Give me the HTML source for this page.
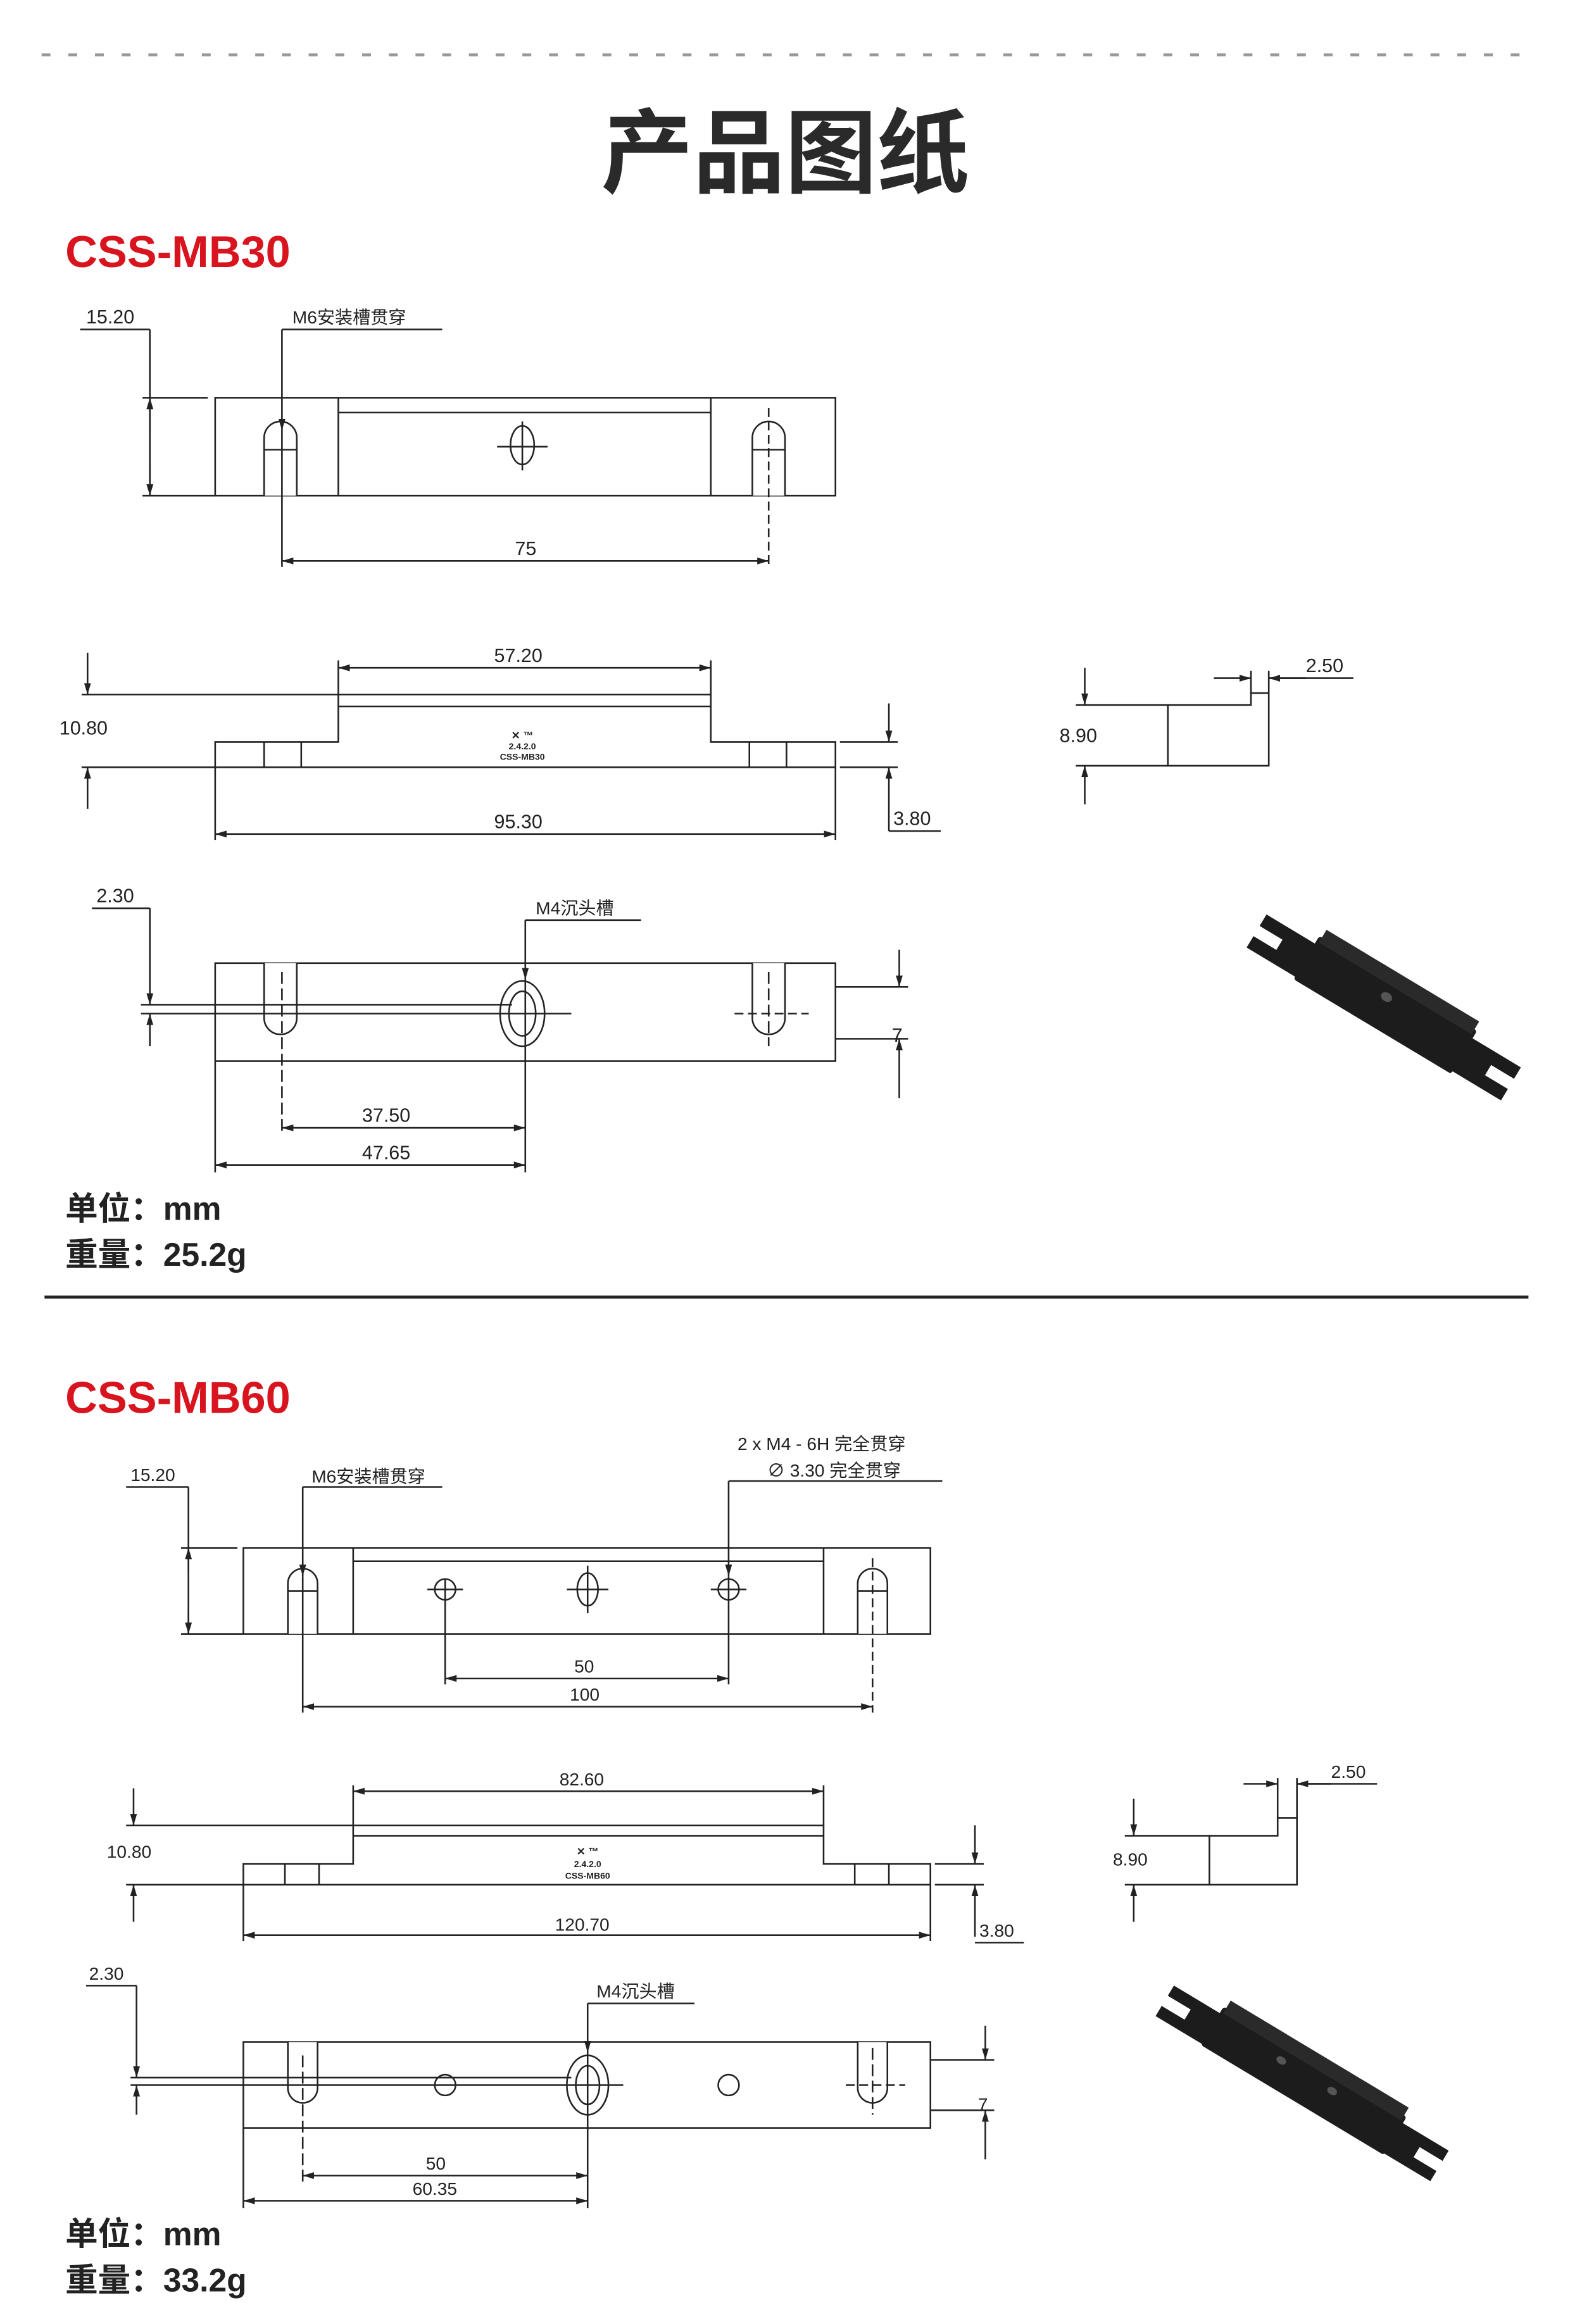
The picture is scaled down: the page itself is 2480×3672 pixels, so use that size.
<!DOCTYPE html>
<html><head><meta charset="utf-8"><style>
html,body{margin:0;padding:0;background:#fff;}
svg{display:block;}
text{font-family:"Liberation Sans","Noto Sans CJK SC",sans-serif;fill:#222;}
.d{font-size:13px;}
.s{font-size:12px;}
</style></head><body>
<svg width="2480" height="3672" viewBox="0 0 1058 1566" preserveAspectRatio="none" xmlns="http://www.w3.org/2000/svg">
<defs>
<marker id="a" viewBox="0 0 10 10" refX="10" refY="5" markerWidth="7" markerHeight="7" orient="auto-start-reverse"><path d="M0,2 L10,5 L0,8 z" fill="#222"/></marker>
</defs>
<rect width="1058" height="1566" fill="#fff"/>
<line x1="28" y1="37" x2="1030" y2="37" stroke="#999" stroke-width="2" stroke-dasharray="6,12"/>
<text x="529" y="125" text-anchor="middle" style="font-size:62px;font-weight:bold;fill:#2a2a2a">产品图纸</text>

<!-- ================= MB30 ================= -->
<text x="44" y="180" style="font-size:30px;font-weight:bold;fill:#d8141e">CSS-MB30</text>
<g fill="none" stroke="#222" stroke-width="1.1">
<rect x="145" y="268" width="418" height="66"/>
<line x1="228" y1="268" x2="228" y2="334"/><line x1="479" y1="268" x2="479" y2="334"/>
<line x1="228" y1="278" x2="479" y2="278"/>
<path d="M178,334 V295 A11,11 0 0 1 200,295 V334" fill="#fff"/>
<path d="M507,334 V295 A11,11 0 0 1 529,295 V334" fill="#fff"/>
<ellipse cx="352" cy="300" rx="8" ry="13"/>
<line x1="335" y1="301" x2="369" y2="301"/><line x1="352" y1="284" x2="352" y2="317"/>
<line x1="178" y1="303" x2="200" y2="303"/><line x1="507" y1="303" x2="529" y2="303"/>
<line x1="518" y1="275" x2="518" y2="382" stroke-dasharray="6,3"/>
<line x1="190" y1="222" x2="190" y2="290" marker-end="url(#a)"/>
<line x1="190" y1="290" x2="190" y2="382"/>
<line x1="190" y1="222" x2="298" y2="222"/>
<line x1="54" y1="222" x2="101" y2="222"/>
<line x1="101" y1="222" x2="101" y2="334"/>
<line x1="101" y1="290" x2="101" y2="268" marker-end="url(#a)"/>
<line x1="101" y1="310" x2="101" y2="334" marker-end="url(#a)"/>
<line x1="96" y1="268" x2="140" y2="268"/><line x1="96" y1="334" x2="145" y2="334"/>
<line x1="190" y1="378" x2="518" y2="378" marker-start="url(#a)" marker-end="url(#a)"/>
<path d="M145,517 H563 V500 H479 V468 H228 V500 H145 Z"/>
<line x1="228" y1="476" x2="479" y2="476"/>
<line x1="178" y1="500" x2="178" y2="517"/><line x1="203" y1="500" x2="203" y2="517"/>
<line x1="505" y1="500" x2="505" y2="517"/><line x1="530" y1="500" x2="530" y2="517"/>
<line x1="228" y1="445" x2="228" y2="468"/><line x1="479" y1="445" x2="479" y2="468"/>
<line x1="228" y1="450" x2="479" y2="450" marker-start="url(#a)" marker-end="url(#a)"/>
<line x1="55" y1="468" x2="228" y2="468"/><line x1="55" y1="517" x2="145" y2="517"/>
<line x1="59" y1="440" x2="59" y2="468" marker-end="url(#a)"/>
<line x1="59" y1="545" x2="59" y2="517" marker-end="url(#a)"/>
<line x1="145" y1="517" x2="145" y2="566"/><line x1="563" y1="517" x2="563" y2="566"/>
<line x1="145" y1="562" x2="563" y2="562" marker-start="url(#a)" marker-end="url(#a)"/>
<line x1="566" y1="500" x2="605" y2="500"/><line x1="566" y1="517" x2="605" y2="517"/>
<line x1="599" y1="474" x2="599" y2="500" marker-end="url(#a)"/>
<line x1="599" y1="560" x2="599" y2="517" marker-end="url(#a)"/>
<line x1="599" y1="560" x2="634" y2="560"/>
<path d="M787,475 H843 V467 H855 V516 H787 Z"/>
<line x1="843" y1="467" x2="843" y2="452"/><line x1="855" y1="467" x2="855" y2="452"/>
<line x1="818" y1="457" x2="843" y2="457" marker-end="url(#a)"/>
<line x1="880" y1="457" x2="855" y2="457" marker-end="url(#a)"/>
<line x1="855" y1="457" x2="912" y2="457"/>
<line x1="725" y1="475" x2="787" y2="475"/><line x1="725" y1="516" x2="787" y2="516"/>
<line x1="731" y1="450" x2="731" y2="475" marker-end="url(#a)"/>
<line x1="731" y1="542" x2="731" y2="516" marker-end="url(#a)"/>
<rect x="145" y="649" width="418" height="66"/>
<path d="M178,649 V686 A11,11 0 0 0 200,686 V649" fill="#fff"/>
<path d="M507,649 V686 A11,11 0 0 0 529,686 V649" fill="#fff"/>
<ellipse cx="352" cy="683" rx="15" ry="22"/>
<ellipse cx="352" cy="683" rx="9" ry="15"/>
<line x1="95" y1="683" x2="385" y2="683"/>
<line x1="95" y1="677" x2="345" y2="677"/>
<line x1="495" y1="683" x2="545" y2="683" stroke-dasharray="6,3"/>
<line x1="190" y1="655" x2="190" y2="764" stroke-dasharray="8,3"/>
<line x1="518" y1="655" x2="518" y2="705" stroke-dasharray="8,3"/>
<line x1="354" y1="620" x2="354" y2="660" marker-end="url(#a)"/>
<line x1="354" y1="660" x2="354" y2="790"/>
<line x1="354" y1="620" x2="432" y2="620"/>
<line x1="62" y1="612" x2="101" y2="612"/>
<line x1="101" y1="612" x2="101" y2="677" marker-end="url(#a)"/>
<line x1="101" y1="705" x2="101" y2="683" marker-end="url(#a)"/>
<line x1="563" y1="665" x2="612" y2="665"/><line x1="563" y1="700" x2="612" y2="700"/>
<line x1="606" y1="640" x2="606" y2="665" marker-end="url(#a)"/>
<line x1="606" y1="740" x2="606" y2="700" marker-end="url(#a)"/>
<line x1="145" y1="715" x2="145" y2="790"/>
<line x1="190" y1="760" x2="354" y2="760" marker-start="url(#a)" marker-end="url(#a)"/>
<line x1="145" y1="785" x2="354" y2="785" marker-start="url(#a)" marker-end="url(#a)"/>
</g>
<text x="58" y="218" class="d">15.20</text>
<text x="197" y="218" class="s">M6安装槽贯穿</text>
<text x="347" y="374" class="d">75</text>
<text x="333" y="446" class="d">57.20</text>
<text x="40" y="495" class="d">10.80</text>
<text x="333" y="558" class="d">95.30</text>
<text x="602" y="556" class="d">3.80</text>
<text x="352" y="498" text-anchor="middle" style="font-size:7px;font-weight:bold">✕ ™</text>
<text x="352" y="505" text-anchor="middle" style="font-size:6px;font-weight:bold">2.4.2.0</text>
<text x="352" y="512" text-anchor="middle" style="font-size:6px;font-weight:bold">CSS-MB30</text>
<text x="880" y="453" class="d">2.50</text>
<text x="714" y="500" class="d">8.90</text>
<text x="65" y="608" class="d">2.30</text>
<text x="361" y="616" class="s">M4沉头槽</text>
<text x="601" y="702" class="d">7</text>
<text x="244" y="756" class="d">37.50</text>
<text x="244" y="781" class="d">47.65</text>
<text x="44" y="822" style="font-size:22px;font-weight:bold">单位：mm</text>
<text x="44" y="853" style="font-size:22px;font-weight:bold">重量：25.2g</text>
<!-- iso 1 -->
<g transform="translate(933,678) rotate(31)" fill="#1c1c1c">
<rect x="-62" y="-18" width="124" height="34" rx="2"/>
<rect x="-60" y="-24" width="120" height="10" fill="#2a2a2a"/>
<path d="M-100,-12 H-60 V14 H-100 V5 H-82 V-3 H-100 Z"/>
<path d="M60,-12 H100 V-3 H82 V5 H100 V14 H60 Z"/>
<ellipse cx="-2" cy="-6" rx="4" ry="3" fill="#555"/>
</g>
<line x1="30" y1="874" x2="1030" y2="874" stroke="#222" stroke-width="2"/>

<!-- ================= MB60 ================= -->
<text x="44" y="952" style="font-size:30px;font-weight:bold;fill:#d8141e">CSS-MB60</text>
<g fill="none" stroke="#222" stroke-width="1.1">
<rect x="164" y="1043" width="463" height="58"/>
<line x1="238" y1="1043" x2="238" y2="1101"/><line x1="555" y1="1043" x2="555" y2="1101"/>
<line x1="238" y1="1052" x2="555" y2="1052"/>
<path d="M194,1101 V1067 A10,10 0 0 1 214,1067 V1101" fill="#fff"/>
<path d="M578,1101 V1067 A10,10 0 0 1 598,1067 V1101" fill="#fff"/>
<circle cx="300" cy="1071" r="7"/><circle cx="491" cy="1071" r="7"/>
<ellipse cx="396" cy="1071" rx="7" ry="11"/>
<line x1="288" y1="1071" x2="312" y2="1071"/><line x1="479" y1="1071" x2="503" y2="1071"/><line x1="382" y1="1071" x2="410" y2="1071"/>
<line x1="396" y1="1055" x2="396" y2="1087"/>
<line x1="194" y1="1072" x2="214" y2="1072"/><line x1="578" y1="1072" x2="598" y2="1072"/>
<line x1="300" y1="1064" x2="300" y2="1135"/>
<line x1="588" y1="1050" x2="588" y2="1154" stroke-dasharray="6,3"/>
<line x1="204" y1="1002" x2="204" y2="1062" marker-end="url(#a)"/>
<line x1="204" y1="1062" x2="204" y2="1154"/>
<line x1="204" y1="1002" x2="298" y2="1002"/>
<line x1="491" y1="998" x2="491" y2="1062" marker-end="url(#a)"/>
<line x1="491" y1="1062" x2="491" y2="1135"/>
<line x1="491" y1="998" x2="635" y2="998"/>
<line x1="85" y1="1002" x2="127" y2="1002"/>
<line x1="127" y1="1002" x2="127" y2="1101"/>
<line x1="127" y1="1060" x2="127" y2="1043" marker-end="url(#a)"/>
<line x1="127" y1="1085" x2="127" y2="1101" marker-end="url(#a)"/>
<line x1="122" y1="1043" x2="160" y2="1043"/><line x1="122" y1="1101" x2="164" y2="1101"/>
<line x1="300" y1="1131" x2="491" y2="1131" marker-start="url(#a)" marker-end="url(#a)"/>
<line x1="204" y1="1150" x2="588" y2="1150" marker-start="url(#a)" marker-end="url(#a)"/>
<path d="M164,1270 H627 V1256 H555 V1230 H238 V1256 H164 Z"/>
<line x1="238" y1="1237" x2="555" y2="1237"/>
<line x1="192" y1="1256" x2="192" y2="1270"/><line x1="215" y1="1256" x2="215" y2="1270"/>
<line x1="576" y1="1256" x2="576" y2="1270"/><line x1="599" y1="1256" x2="599" y2="1270"/>
<line x1="238" y1="1203" x2="238" y2="1230"/><line x1="555" y1="1203" x2="555" y2="1230"/>
<line x1="238" y1="1207" x2="555" y2="1207" marker-start="url(#a)" marker-end="url(#a)"/>
<line x1="85" y1="1230" x2="238" y2="1230"/><line x1="85" y1="1270" x2="164" y2="1270"/>
<line x1="90" y1="1205" x2="90" y2="1230" marker-end="url(#a)"/>
<line x1="90" y1="1295" x2="90" y2="1270" marker-end="url(#a)"/>
<line x1="164" y1="1270" x2="164" y2="1308"/><line x1="627" y1="1270" x2="627" y2="1308"/>
<line x1="164" y1="1304" x2="627" y2="1304" marker-start="url(#a)" marker-end="url(#a)"/>
<line x1="630" y1="1256" x2="663" y2="1256"/><line x1="630" y1="1270" x2="663" y2="1270"/>
<line x1="657" y1="1230" x2="657" y2="1256" marker-end="url(#a)"/>
<line x1="657" y1="1305" x2="657" y2="1270" marker-end="url(#a)"/>
<line x1="657" y1="1309" x2="690" y2="1309"/>
<path d="M815,1237 H861 V1225 H874 V1270 H815 Z"/>
<line x1="861" y1="1225" x2="861" y2="1198"/><line x1="874" y1="1225" x2="874" y2="1198"/>
<line x1="838" y1="1202" x2="861" y2="1202" marker-end="url(#a)"/>
<line x1="897" y1="1202" x2="874" y2="1202" marker-end="url(#a)"/>
<line x1="874" y1="1202" x2="928" y2="1202"/>
<line x1="758" y1="1237" x2="815" y2="1237"/><line x1="758" y1="1270" x2="815" y2="1270"/>
<line x1="764" y1="1212" x2="764" y2="1237" marker-end="url(#a)"/>
<line x1="764" y1="1295" x2="764" y2="1270" marker-end="url(#a)"/>
<rect x="164" y="1376" width="463" height="58"/>
<path d="M194,1376 V1407 A10,10 0 0 0 214,1407 V1376" fill="#fff"/>
<path d="M578,1376 V1407 A10,10 0 0 0 598,1407 V1376" fill="#fff"/>
<circle cx="300" cy="1405" r="7"/><circle cx="491" cy="1405" r="7"/>
<ellipse cx="396" cy="1405" rx="14" ry="20"/>
<ellipse cx="396" cy="1405" rx="8" ry="13"/>
<line x1="88" y1="1405" x2="420" y2="1405"/>
<line x1="88" y1="1400" x2="385" y2="1400"/>
<line x1="570" y1="1405" x2="610" y2="1405" stroke-dasharray="6,3"/>
<line x1="204" y1="1385" x2="204" y2="1470" stroke-dasharray="8,3"/>
<line x1="588" y1="1380" x2="588" y2="1425" stroke-dasharray="8,3"/>
<line x1="396" y1="1350" x2="396" y2="1383" marker-end="url(#a)"/>
<line x1="396" y1="1383" x2="396" y2="1488"/>
<line x1="396" y1="1350" x2="468" y2="1350"/>
<line x1="58" y1="1338" x2="92" y2="1338"/>
<line x1="92" y1="1338" x2="92" y2="1400" marker-end="url(#a)"/>
<line x1="92" y1="1425" x2="92" y2="1405" marker-end="url(#a)"/>
<line x1="627" y1="1388" x2="670" y2="1388"/><line x1="627" y1="1422" x2="670" y2="1422"/>
<line x1="664" y1="1365" x2="664" y2="1388" marker-end="url(#a)"/>
<line x1="664" y1="1455" x2="664" y2="1422" marker-end="url(#a)"/>
<line x1="164" y1="1434" x2="164" y2="1488"/>
<line x1="204" y1="1466" x2="396" y2="1466" marker-start="url(#a)" marker-end="url(#a)"/>
<line x1="164" y1="1483" x2="396" y2="1483" marker-start="url(#a)" marker-end="url(#a)"/>
</g>
<text x="88" y="998" class="s">15.20</text>
<text x="210" y="999" class="s">M6安装槽贯穿</text>
<text x="497" y="977" class="s">2 x  M4 - 6H 完全贯穿</text>
<text x="517" y="995" class="s">∅ 3.30 完全贯穿</text>
<text x="387" y="1127" class="s">50</text>
<text x="384" y="1146" class="s">100</text>
<text x="377" y="1203" class="s">82.60</text>
<text x="72" y="1252" class="s">10.80</text>
<text x="374" y="1301" class="s">120.70</text>
<text x="660" y="1305" class="s">3.80</text>
<text x="396" y="1250" text-anchor="middle" style="font-size:7px;font-weight:bold">✕ ™</text>
<text x="396" y="1258" text-anchor="middle" style="font-size:6px;font-weight:bold">2.4.2.0</text>
<text x="396" y="1266" text-anchor="middle" style="font-size:6px;font-weight:bold">CSS-MB60</text>
<text x="897" y="1198" class="s">2.50</text>
<text x="750" y="1257" class="s">8.90</text>
<text x="60" y="1334" class="s">2.30</text>
<text x="402" y="1346" class="s">M4沉头槽</text>
<text x="659" y="1422" class="s">7</text>
<text x="287" y="1462" class="s">50</text>
<text x="278" y="1479" class="s">60.35</text>
<text x="44" y="1513" style="font-size:22px;font-weight:bold">单位：mm</text>
<text x="44" y="1544" style="font-size:22px;font-weight:bold">重量：33.2g</text>
<g transform="translate(878,1403) rotate(31)" fill="#1c1c1c">
<rect x="-72" y="-16" width="144" height="30" rx="2"/>
<rect x="-70" y="-22" width="140" height="10" fill="#2a2a2a"/>
<path d="M-108,-11 H-70 V13 H-108 V5 H-90 V-3 H-108 Z"/>
<path d="M70,-11 H108 V-3 H90 V5 H108 V13 H70 Z"/>
<ellipse cx="-20" cy="-5" rx="3.5" ry="2.5" fill="#555"/>
<ellipse cx="20" cy="-5" rx="3.5" ry="2.5" fill="#555"/>
</g>
</svg>
</body></html>
